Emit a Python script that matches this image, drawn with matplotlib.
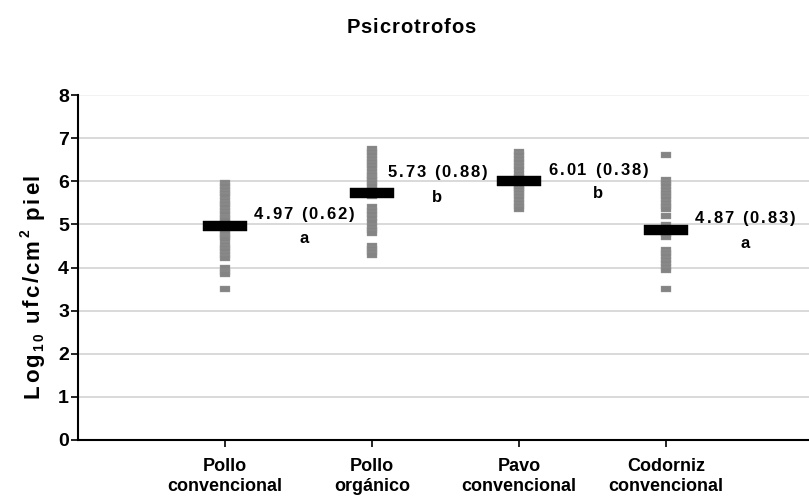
import matplotlib
matplotlib.use("Agg")
import matplotlib.pyplot as plt
from matplotlib.font_manager import FontProperties
from matplotlib.transforms import offset_copy
import numpy as np

# ---- data ----
categories = ["Pollo\nconvencional", "Pollo\norgánico", "Pavo\nconvencional", "Codorniz\nconvencional"]
pollo_conv = [5.95, 5.88, 5.80, 5.72, 5.66, 5.55, 5.48, 5.40, 5.32, 5.25, 5.15, 5.10,
              5.02, 4.97, 4.92, 4.85, 4.78, 4.70, 4.66, 4.52, 4.45, 4.38, 4.30, 4.22,
              3.98, 3.90, 3.84, 3.50]
pollo_org = [6.75, 6.68, 6.60, 6.52, 6.45, 6.38, 6.30, 6.22, 6.15, 6.08, 6.02, 5.95,
             5.88, 5.80, 5.75, 5.70, 5.65, 5.40, 5.32, 5.25, 5.15, 5.05, 4.95, 4.88,
             4.80, 4.50, 4.42, 4.35, 4.28]
pavo_conv = [6.68, 6.60, 6.52, 6.45, 6.35, 6.28, 6.16, 6.10, 6.05, 6.00, 5.95, 5.90,
             5.85, 5.80, 5.72, 5.65, 5.58, 5.50, 5.42, 5.36]
codorniz_conv = [6.60, 6.02, 5.95, 5.88, 5.80, 5.72, 5.65, 5.58, 5.50, 5.42, 5.36, 5.20,
                 4.98, 4.92, 4.85, 4.78, 4.70, 4.40, 4.33, 4.26, 4.18, 4.10, 4.02, 3.95,
                 3.50]
series = [pollo_conv, pollo_org, pavo_conv, codorniz_conv]
means = [4.97, 5.73, 6.01, 4.87]
sds = [0.62, 0.88, 0.38, 0.83]
letters = ["a", "b", "b", "a"]
yticks = [0, 1, 2, 3, 4, 5, 6, 7, 8]

# ---- layout constants ----
label_dx = [0.54, 0.445, 0.54, 0.54]
label_dy = [0.30, 0.50, 0.28, 0.30]
letter_dy = [-0.26, -0.07, -0.26, -0.27]

FAMILY = ['Liberation Sans', 'DejaVu Sans']
plt.rcParams['font.family'] = FAMILY
plt.rcParams['font.weight'] = 'bold'

fig = plt.figure(figsize=(8.09, 4.99), dpi=100)
ax = fig.add_axes([78/809, 59/499, 1 - 78/809, (440-95)/499])
renderer = fig.canvas.get_renderer()


def spaced_text(x, y, segments, fontsize, spacing_px, transform, rotation=0, zorder=5):
    """Draw letter-spaced text centred at (x, y). segments: (text, scale, rise_em)."""
    chars = []
    for txt, scale, rise in segments:
        fp = FontProperties(family=FAMILY, weight='bold', size=fontsize * scale)
        for ch in txt:
            w, h, d = renderer.get_text_width_height_descent(ch, fp, ismath=False)
            chars.append((ch, fp, w, rise * fontsize * fig.dpi / 72.0))
    total = sum(c[2] for c in chars) + spacing_px * (len(chars) - 1)
    cap = 0.716 * fontsize * fig.dpi / 72.0
    pos = -total / 2.0
    target = fig if transform is fig.transFigure else ax
    for ch, fp, w, rise in chars:
        p = -cap / 2.0 + rise
        if rotation == 0:
            dx, dy = pos, p
        else:
            dx, dy = -p, pos
        tr = offset_copy(transform, fig=fig, x=dx, y=dy, units='dots')
        t = target.text(x, y, ch, fontproperties=fp, transform=tr, ha='left', va='baseline',
                        rotation=rotation, rotation_mode='anchor', zorder=zorder)
        t.set_clip_on(False)
        pos += w + spacing_px


pt_marker = [(-5, -3), (5, -3), (5, 3), (-5, 3), (-5, -3)]
bar_marker = [(-21.5, -4.5), (21.5, -4.5), (21.5, 4.5), (-21.5, 4.5), (-21.5, -4.5)]

for i, vals in enumerate(series):
    xs = np.full(len(vals), i + 1)
    ax.plot(xs, vals, linestyle='none', marker=pt_marker, markersize=7.2,
            markerfacecolor='#848484', markeredgecolor='#9c9c9c', markeredgewidth=0.25,
            zorder=3)
    ax.plot([i + 1], [means[i]], linestyle='none', marker=bar_marker, markersize=31,
            markerfacecolor='black', markeredgecolor='black', markeredgewidth=0.3,
            zorder=4)
    spaced_text(i + 1 + label_dx[i], means[i] + label_dy[i],
                [(f"{means[i]:.2f} ({sds[i]:.2f})", 1.0, 0.0)], 12, 2.0, ax.transData)
    spaced_text(i + 1 + label_dx[i], means[i] + letter_dy[i],
                [(letters[i], 1.0, 0.0)], 12, 0, ax.transData)

for y in yticks[1:]:
    ax.axhline(y, color='#cfcfcf' if y < 8 else '#efefef', linewidth=1.1, zorder=1)

ax.set_xlim(0, (809 - 78) / 147)
ax.set_ylim(0, 8)
ax.set_yticks(yticks)
ax.set_yticklabels([str(v) for v in yticks], fontsize=14, fontweight='bold')
ax.set_xticks([1, 2, 3, 4])
ax.set_xticklabels(categories, fontsize=13, fontweight='bold', linespacing=1.2)
ax.tick_params(axis='both', direction='out', length=5, width=1.2, color='black')
ax.tick_params(axis='x', pad=8)
ax.tick_params(axis='y', pad=1.5)
for s in ['top', 'right']:
    ax.spines[s].set_visible(False)
for s in ['left', 'bottom']:
    ax.spines[s].set_linewidth(1.5)

# y label (letter-spaced, rotated)
spaced_text(31/809, 1 - 286/499,
            [("Log", 1.0, 0.0), ("10", 0.62, -0.2), (" ufc/cm", 1.0, 0.0), ("2", 0.62, 0.42),
             (" piel", 1.0, 0.0)],
            16, 2.3, fig.transFigure, rotation=90)

# title
spaced_text(411/809, 1 - 26/499, [("Psicrotrofos", 1.0, 0.0)], 14.5, 1.0, fig.transFigure)

fig.savefig("out.png", dpi=100)
